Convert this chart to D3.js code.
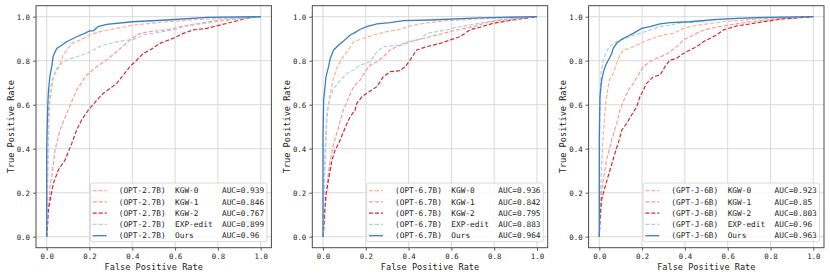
<!DOCTYPE html>
<meta charset="utf-8">
<style>
body { margin: 0; background: #fff; }
text { font-family: "DejaVu Sans Mono", monospace; fill: #222; }
</style>
<body>
<svg width="830" height="278"></svg>
<script src="https://d3js.org/d3.v7.min.js"></script>
<script>
// ROC points [fpr, tpr]
var opt27_kgw0 = [[0,0],[0.004,0.2],[0.008,0.45],[0.015,0.62],[0.031,0.727],[0.054,0.765],[0.078,0.826],[0.117,0.879],[0.156,0.894],[0.202,0.917],[0.249,0.932],[0.327,0.947],[0.405,0.962],[0.561,0.977],[0.716,0.988],[0.872,0.993],[1,1]];
var opt27_kgw1 = [[0,0],[0.003,0.09],[0.011,0.152],[0.015,0.227],[0.028,0.303],[0.039,0.394],[0.062,0.485],[0.1,0.576],[0.14,0.667],[0.187,0.735],[0.234,0.773],[0.28,0.803],[0.327,0.841],[0.389,0.894],[0.436,0.924],[0.483,0.932],[0.561,0.94],[0.638,0.958],[0.716,0.97],[0.794,0.982],[0.965,0.997],[1,1]];
var opt27_kgw2 = [[0,0],[0.003,0.03],[0.008,0.121],[0.019,0.182],[0.031,0.242],[0.054,0.303],[0.086,0.349],[0.117,0.424],[0.14,0.485],[0.163,0.53],[0.195,0.576],[0.234,0.621],[0.265,0.652],[0.296,0.674],[0.327,0.697],[0.358,0.735],[0.389,0.773],[0.421,0.803],[0.452,0.833],[0.483,0.849],[0.529,0.879],[0.592,0.902],[0.638,0.924],[0.685,0.94],[0.748,0.947],[0.81,0.962],[0.872,0.977],[0.935,0.993],[1,1]];
var opt27_exp = [[0,0],[0.003,0.3],[0.006,0.45],[0.008,0.576],[0.015,0.667],[0.031,0.727],[0.047,0.765],[0.07,0.788],[0.093,0.803],[0.14,0.818],[0.187,0.833],[0.249,0.864],[0.296,0.879],[0.358,0.891],[0.405,0.897],[0.452,0.917],[0.514,0.927],[0.592,0.94],[0.654,0.958],[0.716,0.967],[0.794,0.977],[0.872,0.988],[1,1]];
var opt27_ours = [[0,0],[0,0.4],[0.005,0.6],[0.008,0.66],[0.015,0.73],[0.023,0.77],[0.03,0.82],[0.047,0.856],[0.07,0.87],[0.093,0.886],[0.14,0.909],[0.18,0.925],[0.2,0.935],[0.22,0.937],[0.24,0.955],[0.28,0.965],[0.4,0.977],[0.56,0.985],[0.75,0.997],[1,1]];

var opt67_kgw0 = [[0,0],[0.005,0.2],[0.012,0.4],[0.019,0.545],[0.031,0.636],[0.05,0.727],[0.068,0.773],[0.089,0.811],[0.112,0.841],[0.143,0.886],[0.189,0.902],[0.236,0.917],[0.298,0.932],[0.36,0.943],[0.407,0.958],[0.469,0.97],[0.578,0.982],[0.733,0.99],[0.87,0.996],[1,1]];
var opt67_kgw1 = [[0,0],[0.008,0.09],[0.014,0.182],[0.023,0.273],[0.034,0.349],[0.05,0.424],[0.073,0.5],[0.095,0.576],[0.119,0.63],[0.143,0.682],[0.174,0.712],[0.197,0.75],[0.22,0.78],[0.252,0.795],[0.282,0.818],[0.314,0.849],[0.345,0.864],[0.407,0.886],[0.5,0.909],[0.562,0.924],[0.624,0.94],[0.702,0.955],[0.78,0.977],[0.888,0.99],[1,1]];
var opt67_kgw2 = [[0,0],[0.003,0.03],[0.008,0.121],[0.015,0.197],[0.026,0.258],[0.042,0.349],[0.057,0.394],[0.073,0.424],[0.112,0.515],[0.127,0.545],[0.15,0.576],[0.158,0.606],[0.182,0.636],[0.205,0.652],[0.252,0.682],[0.282,0.727],[0.314,0.75],[0.36,0.755],[0.384,0.773],[0.407,0.803],[0.438,0.849],[0.485,0.864],[0.547,0.879],[0.593,0.894],[0.64,0.909],[0.686,0.94],[0.733,0.952],[0.795,0.97],[0.888,0.985],[1,1]];
var opt67_exp = [[0,0],[0.005,0.2],[0.01,0.409],[0.019,0.576],[0.034,0.636],[0.05,0.674],[0.081,0.712],[0.112,0.742],[0.143,0.758],[0.174,0.78],[0.22,0.795],[0.252,0.841],[0.282,0.864],[0.36,0.871],[0.391,0.886],[0.453,0.897],[0.485,0.924],[0.578,0.94],[0.64,0.955],[0.733,0.97],[0.811,0.985],[0.888,0.992],[1,1]];
var opt67_ours = [[0,0],[0,0.45],[0.003,0.621],[0.014,0.727],[0.026,0.773],[0.034,0.811],[0.05,0.849],[0.073,0.871],[0.096,0.889],[0.127,0.917],[0.151,0.929],[0.174,0.943],[0.205,0.955],[0.252,0.967],[0.314,0.973],[0.376,0.982],[0.5,0.985],[0.733,0.995],[1,1]];

var gptj_kgw0 = [[0,0],[0.006,0.2],[0.012,0.35],[0.019,0.47],[0.027,0.576],[0.034,0.636],[0.047,0.712],[0.065,0.742],[0.081,0.788],[0.097,0.826],[0.112,0.849],[0.143,0.856],[0.175,0.871],[0.206,0.886],[0.252,0.902],[0.299,0.917],[0.346,0.924],[0.393,0.947],[0.439,0.958],[0.502,0.967],[0.58,0.977],[0.673,0.985],[0.782,0.992],[1,1]];
var gptj_kgw1 = [[0,0],[0.004,0.1],[0.011,0.212],[0.034,0.349],[0.058,0.44],[0.081,0.515],[0.097,0.576],[0.115,0.621],[0.136,0.667],[0.159,0.697],[0.182,0.735],[0.206,0.773],[0.237,0.795],[0.268,0.811],[0.307,0.826],[0.33,0.841],[0.362,0.864],[0.393,0.894],[0.424,0.909],[0.47,0.932],[0.517,0.947],[0.58,0.958],[0.642,0.967],[0.704,0.977],[0.782,0.985],[0.86,0.992],[1,1]];
var gptj_kgw2 = [[0,0],[0.003,0.076],[0.011,0.167],[0.027,0.227],[0.05,0.303],[0.073,0.379],[0.093,0.44],[0.105,0.485],[0.128,0.515],[0.151,0.553],[0.175,0.591],[0.19,0.636],[0.206,0.667],[0.221,0.697],[0.252,0.727],[0.284,0.735],[0.307,0.773],[0.33,0.803],[0.362,0.811],[0.393,0.833],[0.424,0.849],[0.455,0.864],[0.486,0.886],[0.548,0.917],[0.58,0.94],[0.642,0.958],[0.704,0.967],[0.766,0.977],[0.86,0.99],[1,1]];
var gptj_exp = [[0,0],[0.002,0.5],[0.004,0.65],[0.008,0.742],[0.016,0.788],[0.027,0.826],[0.042,0.856],[0.065,0.879],[0.097,0.894],[0.143,0.909],[0.19,0.924],[0.237,0.94],[0.284,0.955],[0.33,0.962],[0.393,0.973],[0.47,0.977],[0.548,0.985],[0.642,0.992],[1,1]];
var gptj_ours = [[0,0],[0,0.45],[0.003,0.636],[0.011,0.712],[0.022,0.758],[0.034,0.788],[0.047,0.811],[0.058,0.833],[0.065,0.856],[0.081,0.879],[0.105,0.897],[0.128,0.909],[0.159,0.924],[0.198,0.947],[0.237,0.955],[0.284,0.967],[0.33,0.973],[0.424,0.977],[0.548,0.988],[0.642,0.992],[0.782,0.997],[1,1]];

var models = ["(OPT-2.7B)", "(OPT-6.7B)", "(GPT-J-6B)"];
var methods = ["KGW-0", "KGW-1", "KGW-2", "EXP-edit", "Ours"];
var aucs = [
  ["0.939", "0.846", "0.767", "0.899", "0.96"],
  ["0.936", "0.842", "0.795", "0.883", "0.964"],
  ["0.923", "0.85", "0.803", "0.96", "0.963"]
];
var curves = [
  [opt27_kgw0, opt27_kgw1, opt27_kgw2, opt27_exp, opt27_ours],
  [opt67_kgw0, opt67_kgw1, opt67_kgw2, opt67_exp, opt67_ours],
  [gptj_kgw0, gptj_kgw1, gptj_kgw2, gptj_exp, gptj_ours]
];
var ticks = [0, 0.2, 0.4, 0.6, 0.8, 1.0];

var colors = ["#fdb094", "#f99a9a", "#d42a2b", "#a9d1e6", "#3a7fc0"];
var dashes = ["4,2", "4,2", "4,2", "4,2", null];

var svg = d3.select("svg");
var panelLeft = [36, 312.3, 588.6],
    panelW = 235.4,
    plotTop = 5.7, plotBottom = 247.7;

var y = d3.scaleLinear().domain([-0.05, 1.05]).range([plotBottom, plotTop]);

panelLeft.forEach(function(left, p) {
  var x = d3.scaleLinear().domain([-0.05, 1.05]).range([left, left + panelW]);
  var g = svg.append("g");

  g.append("clipPath").attr("id", "clip" + p)
    .append("rect").attr("x", left).attr("y", plotTop)
    .attr("width", panelW).attr("height", plotBottom - plotTop);

  // grid
  g.selectAll(".gx").data(ticks).enter().append("line")
    .attr("x1", d => x(d)).attr("x2", d => x(d))
    .attr("y1", plotTop).attr("y2", plotBottom)
    .attr("stroke", "#d9d9d9").attr("stroke-width", 1);
  g.selectAll(".gy").data(ticks).enter().append("line")
    .attr("y1", d => y(d)).attr("y2", d => y(d))
    .attr("x1", left).attr("x2", left + panelW)
    .attr("stroke", "#d9d9d9").attr("stroke-width", 1);

  // axes
  var xa = g.append("g").attr("transform", "translate(0," + plotBottom + ")")
    .call(d3.axisBottom(x).tickValues(ticks).tickFormat(d3.format(".1f")).tickSize(3).tickSizeOuter(0));
  var ya = g.append("g").attr("transform", "translate(" + left + ",0)")
    .call(d3.axisLeft(y).tickValues(ticks).tickFormat(d3.format(".1f")).tickSize(3).tickSizeOuter(0));
  [xa, ya].forEach(function(a) {
    a.select(".domain").remove();
    a.selectAll("line").attr("stroke", "#333").attr("stroke-width", 0.8);
    a.selectAll("text").style("font-family", "DejaVu Sans Mono").style("font-size", "7.4px").attr("fill", "#222");
  });

  // curves
  var line = d3.line().x(d => x(d[0])).y(d => y(d[1]));
  var cg = g.append("g").attr("clip-path", "url(#clip" + p + ")");
  curves[p].forEach(function(c, i) {
    cg.append("path").datum(c)
      .attr("d", line)
      .attr("fill", "none")
      .attr("stroke", colors[i])
      .attr("stroke-width", i == 4 ? 1.3 : 1.2)
      .attr("stroke-dasharray", dashes[i]);
  });

  // frame
  g.append("rect").attr("x", left).attr("y", plotTop)
    .attr("width", panelW).attr("height", plotBottom - plotTop)
    .attr("fill", "none").attr("stroke", "#4a4a4a").attr("stroke-width", 1);

  // labels
  g.append("text").attr("x", left + panelW / 2).attr("y", 269.5)
    .attr("text-anchor", "middle").style("font-size", "8.6px")
    .text("False Positive Rate");
  g.append("text")
    .attr("transform", "translate(" + (left - 22.5) + "," + ((plotTop + plotBottom) / 2) + ") rotate(-90)")
    .attr("text-anchor", "middle").style("font-size", "8.6px")
    .text("True Positive Rate");

  // legend
  var lw = 176.5, lh = 58.7;
  var lx = left + panelW - 4.5 - lw, ly = plotBottom - 6 - lh;
  var lg = g.append("g");
  lg.append("rect").attr("x", lx).attr("y", ly).attr("width", lw).attr("height", lh)
    .attr("rx", 2).attr("fill", "#fff").attr("fill-opacity", 0.85)
    .attr("stroke", "#d0d0d0").attr("stroke-width", 0.8);
  methods.forEach(function(m, i) {
    var ry = ly + 7.7 + i * 11.25;
    lg.append("line").attr("x1", lx + 2.3).attr("x2", lx + 16.3)
      .attr("y1", ry).attr("y2", ry)
      .attr("stroke", colors[i]).attr("stroke-width", i == 4 ? 1.3 : 1.2)
      .attr("stroke-dasharray", dashes[i]);
    var label = models[p].padEnd(12) + m.padEnd(10) + "AUC=" + aucs[p][i];
    lg.append("text").attr("x", lx + 28.3).attr("y", ry + 2.7)
      .style("font-size", "7.8px").style("white-space", "pre")
      .text(label);
  });
});
</script>
</body>
